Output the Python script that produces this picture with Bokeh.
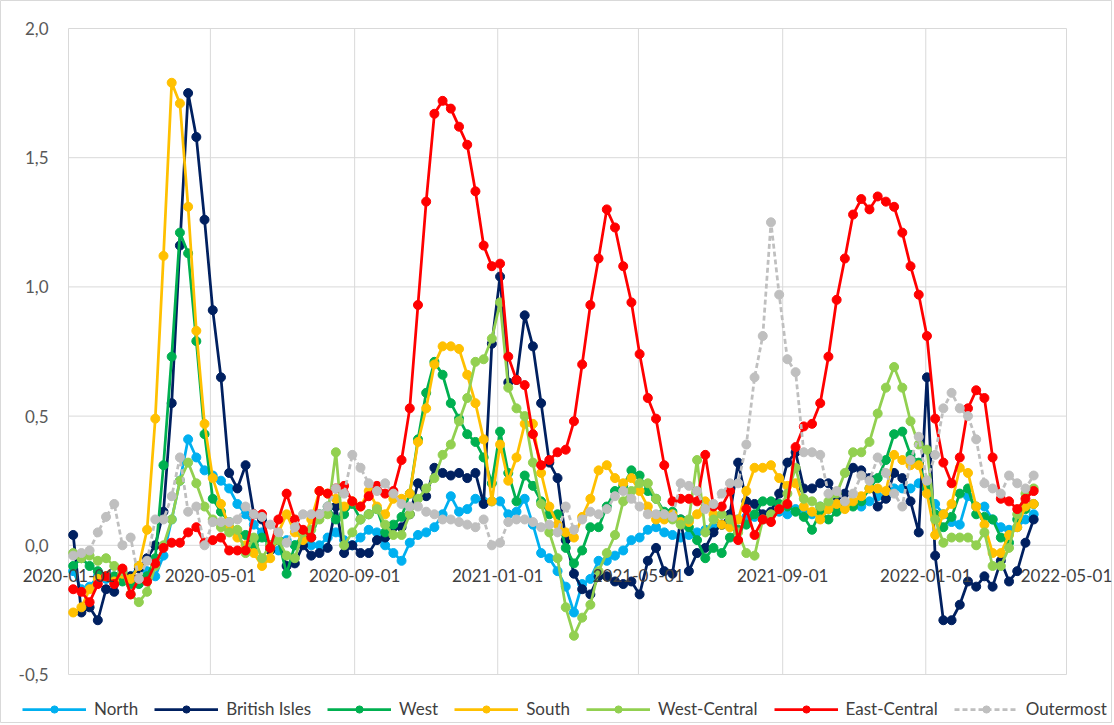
import pandas as pd
from bokeh.plotting import figure
from bokeh.models import Range1d, Legend, LegendItem
from bokeh.core.properties import value
from bokeh.embed import file_html
from bokeh.resources import INLINE

# ---------------- data ----------------
start_date = "2020-01-05"
n_weeks = 118
dates = pd.date_range(start_date, periods=n_weeks, freq="7D")

north = [-0.10, -0.17, -0.16, -0.12, -0.13, -0.14, -0.10, -0.12, -0.08, -0.10,
         -0.12, -0.04, 0.10, 0.25, 0.41, 0.34, 0.29, 0.27, 0.25, 0.22,
         0.16, 0.12, 0.08, 0.05, 0.00, -0.02, 0.02, 0.00, 0.02, 0.00,
         0.00, 0.03, 0.05, 0.02, 0.00, 0.03, 0.06, 0.05, 0.00, -0.03,
         -0.06, 0.01, 0.04, 0.05, 0.07, 0.12, 0.19, 0.13, 0.14, 0.18,
         0.17, 0.17, 0.17, 0.12, 0.13, 0.18, 0.08, -0.03, -0.05, -0.10,
         -0.16, -0.26, -0.15, -0.13, -0.06, -0.06, -0.04, -0.02, 0.02, 0.03,
         0.06, 0.07, 0.05, 0.04, 0.03, 0.04, 0.05, 0.06, 0.07, 0.08,
         0.09, 0.10, 0.11, 0.11, 0.10, 0.12, 0.13, 0.12, 0.14, 0.13,
         0.12, 0.15, 0.14, 0.16, 0.16, 0.16, 0.15, 0.17, 0.19, 0.19,
         0.22, 0.22, 0.22, 0.24, 0.22, 0.16, 0.12, 0.09, 0.08, 0.19,
         0.15, 0.15, 0.10, 0.07, 0.06, 0.07, 0.10, 0.12]

british_isles = [0.04, -0.26, -0.24, -0.29, -0.17, -0.18, -0.11, -0.12, -0.09, -0.05,
                 0.00, 0.13, 0.55, 1.16, 1.75, 1.58, 1.26, 0.91, 0.65, 0.28,
                 0.22, 0.31, 0.12, 0.10, -0.02, 0.02, -0.08, -0.07, 0.00, -0.04,
                 -0.03, -0.01, 0.15, -0.03, 0.00, -0.03, -0.03, 0.02, 0.03, 0.07,
                 0.07, 0.12, 0.24, 0.19, 0.30, 0.28, 0.27, 0.28, 0.26, 0.28,
                 0.16, 0.78, 1.04, 0.63, 0.64, 0.89, 0.77, 0.55, 0.32, 0.26,
                 0.02, -0.11, -0.17, -0.19, -0.12, -0.12, -0.14, -0.15, -0.14, -0.19,
                 -0.06, -0.01, -0.10, -0.11, 0.10, -0.10, -0.03, -0.01, 0.05, 0.08,
                 0.12, 0.32, 0.17, 0.16, 0.12, 0.13, 0.20, 0.32, 0.36, 0.22,
                 0.22, 0.24, 0.24, 0.19, 0.20, 0.30, 0.29, 0.26, 0.15, 0.18,
                 0.28, 0.26, 0.17, 0.05, 0.65, -0.04, -0.29, -0.29, -0.23, -0.14,
                 -0.16, -0.12, -0.16, -0.06, -0.14, -0.10, 0.01, 0.10]

west = [-0.08, -0.05, -0.08, -0.10, -0.12, -0.12, -0.14, -0.15, -0.15, -0.12,
        -0.05, 0.31, 0.73, 1.21, 1.13, 0.79, 0.43, 0.18, 0.13, 0.09,
        0.05, 0.04, 0.00, 0.03, 0.00, 0.02, -0.11, 0.00, 0.04, 0.03,
        0.12, 0.15, 0.10, 0.12, 0.16, 0.10, 0.12, 0.14, 0.05, 0.08,
        0.11, 0.20, 0.41, 0.59, 0.71, 0.66, 0.55, 0.49, 0.43, 0.40,
        0.34, 0.24, 0.44, 0.28, 0.17, 0.27, 0.23, 0.17, 0.12, 0.12,
        -0.01, -0.07, -0.02, 0.07, 0.07, 0.15, 0.21, 0.23, 0.29, 0.27,
        0.21, 0.18, 0.13, 0.13, 0.10, 0.07, 0.02, -0.05, -0.01, -0.03,
        0.03, 0.06, 0.08, 0.12, 0.17, 0.17, 0.16, 0.15, 0.13, 0.11,
        0.06, 0.13, 0.10, 0.13, 0.15, 0.15, 0.17, 0.22, 0.26, 0.33,
        0.43, 0.44, 0.35, 0.32, 0.22, 0.12, 0.07, 0.11, 0.20, 0.22,
        0.12, 0.11, 0.10, 0.03, 0.01, 0.10, 0.14, 0.16]

south = [-0.26, -0.24, -0.17, -0.13, -0.12, -0.14, -0.11, -0.13, -0.08, 0.06,
         0.49, 1.12, 1.79, 1.71, 1.31, 0.83, 0.47, 0.26, 0.16, 0.07,
         0.03, 0.00, -0.03, -0.08, -0.05, 0.05, 0.12, 0.05, 0.02, 0.10,
         0.21, 0.20, 0.18, 0.15, 0.17, 0.15, 0.21, 0.15, 0.12, 0.18,
         0.18, 0.20, 0.40, 0.53, 0.70, 0.77, 0.77, 0.76, 0.66, 0.55,
         0.41, 0.17, 0.39, 0.25, 0.34, 0.47, 0.47, 0.28, 0.15, 0.08,
         0.05, 0.03, 0.11, 0.18, 0.29, 0.31, 0.26, 0.24, 0.26, 0.21,
         0.15, 0.10, 0.10, 0.12, 0.09, 0.09, 0.12, 0.17, 0.12, 0.08,
         0.07, 0.10, 0.21, 0.30, 0.30, 0.31, 0.26, 0.23, 0.24, 0.15,
         0.13, 0.10, 0.14, 0.16, 0.14, 0.17, 0.19, 0.22, 0.22, 0.21,
         0.35, 0.33, 0.31, 0.31, 0.20, 0.04, 0.12, 0.16, 0.30, 0.28,
         0.15, 0.08, -0.03, -0.03, 0.04, 0.07, 0.15, 0.16]

west_central = [-0.03, -0.05, -0.04, -0.06, -0.05, -0.08, -0.10, -0.19, -0.22, -0.18,
                -0.08, 0.00, 0.10, 0.25, 0.32, 0.24, 0.15, 0.10, 0.07, 0.05,
                0.06, -0.03, 0.03, -0.05, 0.00, 0.02, -0.04, -0.05, 0.05, 0.06,
                0.10, 0.12, 0.36, 0.00, 0.05, 0.10, 0.12, 0.14, 0.08, 0.04,
                0.04, 0.12, 0.18, 0.22, 0.26, 0.35, 0.39, 0.48, 0.57, 0.71,
                0.72, 0.80, 0.94, 0.61, 0.53, 0.50, 0.32, 0.16, 0.05, -0.05,
                -0.24, -0.35, -0.28, -0.23, -0.10, -0.03, 0.04, 0.17, 0.21, 0.24,
                0.24, 0.18, 0.12, 0.10, 0.08, 0.10, 0.33, 0.05, 0.10, 0.12,
                0.10, 0.05, -0.03, -0.04, 0.10, 0.12, 0.14, 0.20, 0.30, 0.18,
                0.17, 0.15, 0.17, 0.20, 0.28, 0.36, 0.36, 0.40, 0.51, 0.61,
                0.69, 0.61, 0.48, 0.39, 0.37, 0.10, 0.01, 0.03, 0.03, 0.03,
                0.00, 0.05, -0.08, -0.08, -0.01, 0.12, 0.20, 0.22]

east_central = [-0.17, -0.18, -0.22, -0.15, -0.12, -0.15, -0.09, -0.19, -0.13, -0.14,
                -0.07, -0.01, 0.01, 0.01, 0.05, 0.07, 0.01, 0.02, 0.03, -0.02,
                -0.02, -0.02, 0.12, 0.12, -0.01, 0.10, 0.20, 0.10, 0.06, 0.03,
                0.21, 0.20, 0.22, 0.23, 0.17, 0.15, 0.19, 0.23, 0.20, 0.21,
                0.33, 0.53, 0.93, 1.33, 1.67, 1.72, 1.69, 1.62, 1.55, 1.37,
                1.16, 1.08, 1.09, 0.73, 0.64, 0.62, 0.43, 0.31, 0.33, 0.36,
                0.37, 0.48, 0.70, 0.93, 1.11, 1.30, 1.23, 1.08, 0.94, 0.74,
                0.57, 0.49, 0.31, 0.17, 0.18, 0.18, 0.17, 0.35, 0.15, 0.15,
                0.21, 0.02, 0.14, 0.04, 0.10, 0.09, 0.14, 0.16, 0.38, 0.46,
                0.47, 0.55, 0.73, 0.95, 1.11, 1.28, 1.34, 1.30, 1.35, 1.33,
                1.31, 1.21, 1.08, 0.97, 0.81, 0.49, 0.32, 0.24, 0.34, 0.53,
                0.60, 0.57, 0.34, 0.18, 0.17, 0.14, 0.18, 0.21]

outermost = [-0.04, -0.03, -0.02, 0.05, 0.11, 0.16, 0.00, 0.03, -0.13, -0.06,
             0.10, 0.10, 0.19, 0.34, 0.13, 0.15, 0.00, 0.09, 0.09, 0.09,
             0.10, 0.15, 0.12, 0.11, 0.08, 0.05, 0.01, 0.07, 0.12, 0.12,
             0.12, 0.15, 0.22, 0.20, 0.35, 0.30, 0.24, 0.21, 0.24, 0.20,
             0.16, 0.15, 0.15, 0.13, 0.12, 0.10, 0.10, 0.09, 0.08, 0.07,
             0.10, 0.00, 0.01, 0.09, 0.10, 0.10, 0.09, 0.07, 0.08, 0.05,
             0.15, 0.06, 0.10, 0.13, 0.12, 0.14, 0.19, 0.21, 0.18, 0.15,
             0.12, 0.12, 0.12, 0.11, 0.24, 0.23, 0.21, 0.14, 0.16, 0.20,
             0.24, 0.24, 0.39, 0.65, 0.81, 1.25, 0.97, 0.72, 0.67, 0.36,
             0.36, 0.35, 0.20, 0.21, 0.17, 0.20, 0.27, 0.25, 0.34, 0.28,
             0.20, 0.15, 0.33, 0.42, 0.25, 0.35, 0.53, 0.59, 0.53, 0.50,
             0.41, 0.24, 0.22, 0.20, 0.27, 0.24, 0.22, 0.27]

series_names = ["North", "British Isles", "West", "South",
                "West-Central", "East-Central", "Outermost"]
series_values = [north, british_isles, west, south,
                 west_central, east_central, outermost]
series_colors = ["#00B0F0", "#002060", "#00B050", "#FFC000",
                 "#92D050", "#FF0000", "#BFBFBF"]

x_tick_dates = ["2020-01-01", "2020-05-01", "2020-09-01", "2021-01-01",
                "2021-05-01", "2021-09-01", "2022-01-01", "2022-05-01"]
x_tick_labels = ["2020-01-01", "2020-05-01", "2020-09-01", "2021-01-01",
                 "2021-05-01", "2021-09-01", "2022-01-01", "2022-05-01"]
y_ticks = [-0.5, 0.0, 0.5, 1.0, 1.5, 2.0]
y_tick_labels = ["-0,5", "0,0", "0,5", "1,0", "1,5", "2,0"]


# ---------------- layout (pixels) ----------------
def ms(d):
    return pd.Timestamp(d).value / 1e6

W, H = 1112, 723
PX_LEFT, PX_RIGHT = 68.0, 1066.0      # pixel of first / last date tick
PX_TOP, PX_BOTTOM = 28.0, 674.0       # pixel of top / bottom y tick
x0, x1 = ms(x_tick_dates[0]), ms(x_tick_dates[-1])
xs = (x1 - x0) / (PX_RIGHT - PX_LEFT)
y0, y1 = y_ticks[0], y_ticks[-1]
ys = (y1 - y0) / (PX_BOTTOM - PX_TOP)

FONT = "Lato"
GRID = "#D9D9D9"

p = figure(width=W, height=H, x_axis_type="datetime",
           output_backend="svg", toolbar_location=None,
           x_range=Range1d(x0 - PX_LEFT * xs, x1 + (W - PX_RIGHT) * xs),
           y_range=Range1d(y0 - (H - PX_BOTTOM) * ys, y1 + PX_TOP * ys),
           min_border_left=0, min_border_right=0,
           min_border_top=0, min_border_bottom=0)
p.xaxis.visible = False
p.yaxis.visible = False
p.xgrid.visible = False
p.ygrid.visible = False
p.outline_line_color = GRID
p.background_fill_color = "white"

tick_x = [ms(d) for d in x_tick_dates]
# grid lines
p.segment(x0=[x0] * len(y_ticks), y0=y_ticks, x1=[x1] * len(y_ticks), y1=y_ticks,
          line_color=GRID, line_width=1)
p.segment(x0=tick_x, y0=[y0] * len(tick_x), x1=tick_x, y1=[y1] * len(tick_x),
          line_color=GRID, line_width=1)

# y tick labels
p.text(x=[x0] * len(y_ticks), y=y_ticks, text=y_tick_labels,
       x_offset=-20, text_align="right", text_baseline="middle",
       text_font=value(FONT), text_font_size="17px", text_color="#595959")

items = []
for name, vals, col in zip(series_names, series_values, series_colors):
    dash = "5 3" if name == "Outermost" else "solid"
    r1 = p.line(dates, vals, line_color=col, line_width=2.75, line_dash=dash)
    r2 = p.scatter(dates, vals, size=9, fill_color=col, line_color=col)
    items.append(LegendItem(label=name, renderers=[r1, r2]))

# date labels hanging under the zero line (drawn over the data, as in Excel)
p.text(x=tick_x, y=[0.0] * len(tick_x), text=x_tick_labels,
       y_offset=30, text_align="center", text_baseline="middle",
       text_font=value(FONT), text_font_size="17px", text_color="#404040")

legend = Legend(items=items, orientation="horizontal", location=(22, 4),
                border_line_color=None, background_fill_alpha=0,
                label_text_font=FONT, label_text_font_size="17px",
                label_text_color="#404040", glyph_width=64, glyph_height=18,
                spacing=16, padding=0, margin=0, label_standoff=8)
p.add_layout(legend, "center")

open("out.html", "w").write(file_html(p, INLINE))
